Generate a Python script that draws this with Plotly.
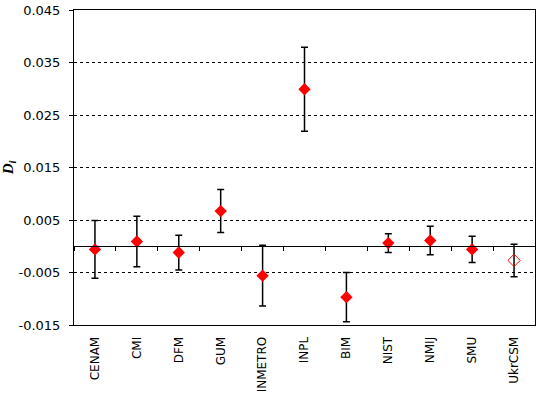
import plotly.graph_objects as go

labs = ["CENAM", "CMI", "DFM", "GUM", "INMETRO", "INPL", "BIM", "NIST", "NMIJ", "SMU", "UkrCSM"]
di = [-0.0006, 0.0009, -0.0012, 0.0067, -0.0056, 0.0299, -0.0097, 0.0006, 0.0011, -0.0006, -0.0027]
unc = [0.0055, 0.0048, 0.0033, 0.0041, 0.0058, 0.0080, 0.0047, 0.0018, 0.0027, 0.0025, 0.0031]
filled = [True] * 10 + [False]
yticks = [0.045, 0.035, 0.025, 0.015, 0.005, -0.005, -0.015]

fx = [l for l, f in zip(labs, filled) if f]
fy = [v for v, f in zip(di, filled) if f]
fu = [u for u, f in zip(unc, filled) if f]
ox = [l for l, f in zip(labs, filled) if not f]
oy = [v for v, f in zip(di, filled) if not f]
ou = [u for u, f in zip(unc, filled) if not f]

fig = go.Figure()
# invisible trace for the zero-line tick axis
fig.add_trace(go.Scatter(x=labs, y=di, xaxis="x2", mode="markers",
                         marker=dict(opacity=0), hoverinfo="skip", showlegend=False))
eb = dict(type="data", visible=True, color="black", thickness=1.5, width=3.5)
fig.add_trace(go.Scatter(x=fx, y=fy, mode="markers",
                         error_y=dict(array=fu, **eb),
                         marker=dict(symbol="diamond", size=9.5, color="#ff0000",
                                     line=dict(width=0)),
                         showlegend=False))
fig.add_trace(go.Scatter(x=ox, y=oy, mode="markers",
                         error_y=dict(array=ou, **eb),
                         marker=dict(symbol="diamond-open", size=9.5, color="#ff0000",
                                     line=dict(width=1, color="#ff0000")),
                         showlegend=False))

font = dict(family="DejaVu Sans", size=12, color="black")
yfont = dict(family="DejaVu Sans", size=13, color="black")
fig.update_layout(
    width=543, height=397,
    margin=dict(l=74, r=8, t=10, b=72),
    plot_bgcolor="white", paper_bgcolor="white",
    font=font,
    xaxis=dict(type="category", categoryorder="array", categoryarray=labs,
               range=[-0.5, 10.5], showline=True, linecolor="black", linewidth=1,
               mirror=True, ticks="", tickangle=-90, showgrid=False,
               ticklabelstandoff=6, tickfont=font, automargin=False),
    xaxis2=dict(type="category", categoryorder="array", categoryarray=labs,
                range=[-0.5, 10.5], overlaying="x", anchor="free", position=0.25,
                side="bottom",
                showline=True, linecolor="black", linewidth=1,
                ticks="outside", ticklen=4, tickcolor="black",
                tickwidth=1, tickson="boundaries", showticklabels=False,
                showgrid=False, automargin=False),
    yaxis=dict(range=[-0.015, 0.045], tickvals=yticks,
               ticktext=[f"{v:.3f}" for v in yticks],
               showline=True, linecolor="black", linewidth=1, mirror=True,
               ticks="outside", ticklen=4, tickcolor="black",
               showgrid=True, gridcolor="black", gridwidth=1, griddash="3px,3px",
               zeroline=True, zerolinecolor="black", zerolinewidth=1,
               ticklabelstandoff=6, tickfont=yfont, automargin=False,
               title=dict(text="<b><i>D<sub>i</sub></i></b>", standoff=12,
                          font=dict(family="Liberation Serif", size=15, color="black"))),
)
fig.write_html("out.html", config={"displayModeBar": False},
               post_script="document.body.style.margin='0';document.body.style.overflow='hidden';")
